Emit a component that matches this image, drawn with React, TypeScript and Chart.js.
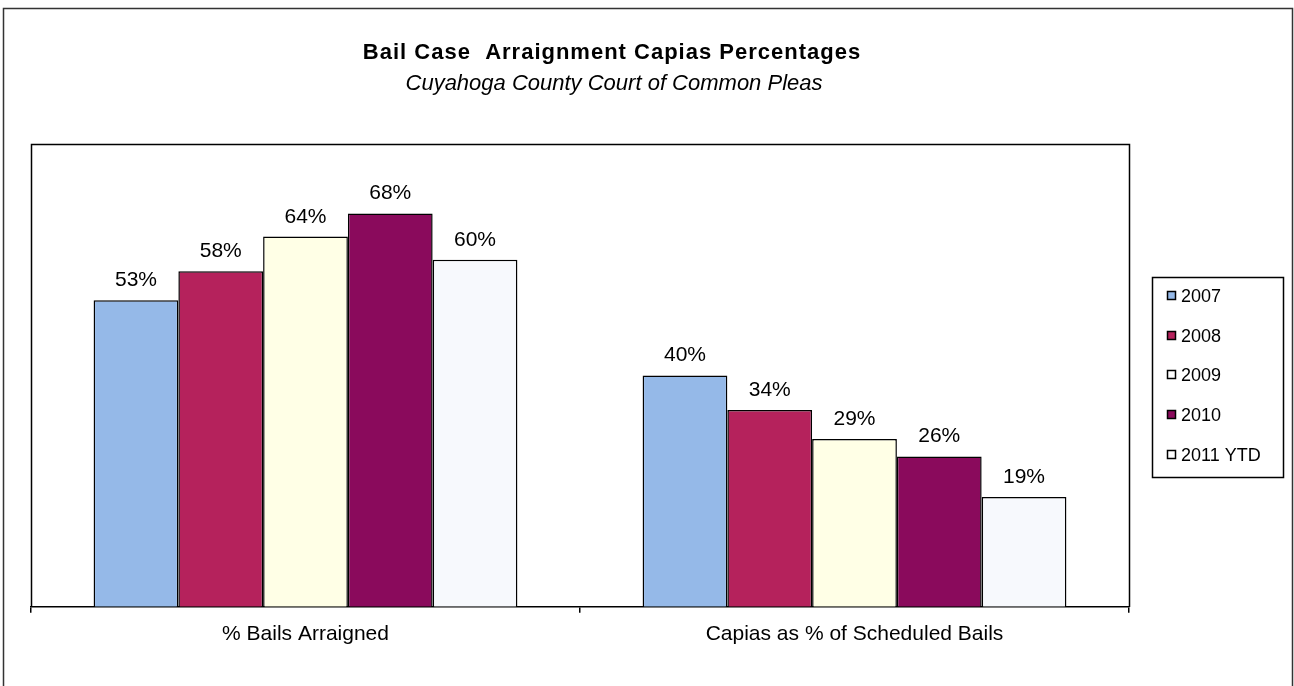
import React, { useEffect, useRef } from "react";
import { Chart, registerables } from "chart.js";

Chart.register(...registerables);

const categories = ["% Bails Arraigned", "Capias as % of Scheduled Bails"];
const seriesNames = ["2007", "2008", "2009", "2010", "2011 YTD"];
const v2007 = [53, 40];
const v2008 = [58, 34];
const v2009 = [64, 29];
const v2010 = [68, 26];
const v2011 = [60, 19];
const seriesValues = [v2007, v2008, v2009, v2010, v2011];
const seriesColors = ["#95B9E8", "#B5225C", "#FFFFE6", "#8A0A5C", "#F7F9FD"];
const legendSwatch = ["#95B9E8", "#B5225C", "#FFFFFF", "#8A0A5C", "#FFFFFF"];
const titleText = "Bail Case  Arraignment Capias Percentages";
const subtitleText = "Cuyahoga County Court of Common Pleas";

const FONT = "'Liberation Sans', Arial, sans-serif";

const decorPlugin = {
  id: "decor",
  beforeDraw(chart: any) {
    const ctx = chart.ctx;
    ctx.save();
    ctx.fillStyle = "#fff";
    ctx.fillRect(0, 0, chart.width, chart.height);
    ctx.restore();
  },
  afterDatasetsDraw(chart: any) {
    const ctx = chart.ctx;
    ctx.save();
    ctx.font = `21px ${FONT}`;
    ctx.fillStyle = "#000";
    ctx.textAlign = "center";
    ctx.textBaseline = "alphabetic";
    chart.data.datasets.forEach((ds: any, i: number) => {
      const meta = chart.getDatasetMeta(i);
      meta.data.forEach((el: any, j: number) => {
        ctx.fillText(ds.data[j] + "%", el.x, el.y - 14);
      });
    });
    ctx.restore();
  },
  afterDraw(chart: any) {
    const ctx = chart.ctx;
    const a = chart.chartArea;
    ctx.save();
    // outer frame
    ctx.strokeStyle = "#333";
    ctx.lineWidth = 1.5;
    ctx.beginPath();
    ctx.moveTo(3.5, 700);
    ctx.lineTo(3.5, 8.5);
    ctx.lineTo(1292.5, 8.5);
    ctx.lineTo(1292.5, 700);
    ctx.stroke();
    // plot area frame
    ctx.strokeStyle = "#000";
    ctx.lineWidth = 1.5;
    ctx.beginPath();
    ctx.moveTo(Math.round(a.left) + 0.5, Math.round(a.bottom));
    ctx.lineTo(Math.round(a.left) + 0.5, Math.round(a.top) + 0.5);
    ctx.lineTo(Math.round(a.right) + 0.5, Math.round(a.top) + 0.5);
    ctx.lineTo(Math.round(a.right) + 0.5, Math.round(a.bottom));
    ctx.stroke();
    // titles
    ctx.fillStyle = "#000";
    ctx.textAlign = "center";
    ctx.textBaseline = "alphabetic";
    ctx.font = `bold 22px ${FONT}`;
    (ctx as any).letterSpacing = "1px";
    ctx.fillText(titleText, 612, 59);
    (ctx as any).letterSpacing = "0px";
    ctx.font = `italic 22px ${FONT}`;
    ctx.fillText(subtitleText, 614, 90);
    // legend
    const lx = 1152, ly = 277, lw = 131, lh = 200;
    ctx.strokeStyle = "#000";
    ctx.lineWidth = 1.5;
    ctx.strokeRect(lx + 0.5, ly + 0.5, lw, lh);
    ctx.font = `18px ${FONT}`;
    ctx.textAlign = "left";
    ctx.textBaseline = "middle";
    ctx.lineWidth = 1.5;
    chart.data.datasets.forEach((ds: any, i: number) => {
      const cy = ly + 19 + i * 39.7;
      ctx.fillStyle = legendSwatch[i];
      ctx.fillRect(1167, Math.round(cy) - 5, 9, 9);
      ctx.strokeStyle = "#000";
      ctx.strokeRect(1167.5, Math.round(cy) - 4.5, 8, 8);
      ctx.fillStyle = "#000";
      ctx.fillText(ds.label, 1181, cy + 1);
    });
    ctx.restore();
  },
};

export default function App() {
  const ref = useRef<HTMLCanvasElement | null>(null);
  useEffect(() => {
    document.body.style.margin = "0";
    if (!ref.current) return;
    const chart = new Chart(ref.current, {
      type: "bar",
      data: {
        labels: categories,
        datasets: seriesNames.map((name, i) => ({
          label: name,
          data: seriesValues[i],
          backgroundColor: seriesColors[i],
          borderColor: "#000",
          borderWidth: 1.5,
          categoryPercentage: 0.772,
          barPercentage: 1.0,
        })),
      },
      options: {
        responsive: false,
        animation: false,
        devicePixelRatio: 1,
        layout: { padding: { left: 31, right: 165, top: 144, bottom: 30 } },
        plugins: {
          legend: { display: false },
          title: { display: false },
          tooltip: { enabled: false },
        },
        scales: {
          x: {
            grid: {
              display: true,
              drawOnChartArea: false,
              drawTicks: true,
              tickLength: 6,
              color: "#000",
              lineWidth: 1.5,
              offset: true,
            },
            border: { display: true, color: "#000", width: 1.5 },
            ticks: {
              color: "#000",
              font: { family: FONT, size: 21 },
              padding: 9,
              maxRotation: 0,
            },
          },
          y: {
            display: false,
            min: 0,
            max: 80,
          },
        },
      },
      plugins: [decorPlugin],
    });
    return () => chart.destroy();
  }, []);
  return (
    <div style={{ position: "fixed", left: 0, top: 0, width: 1294, height: 686 }}>
      <canvas ref={ref} width={1294} height={686} style={{ width: 1294, height: 686 }} />
    </div>
  );
}
